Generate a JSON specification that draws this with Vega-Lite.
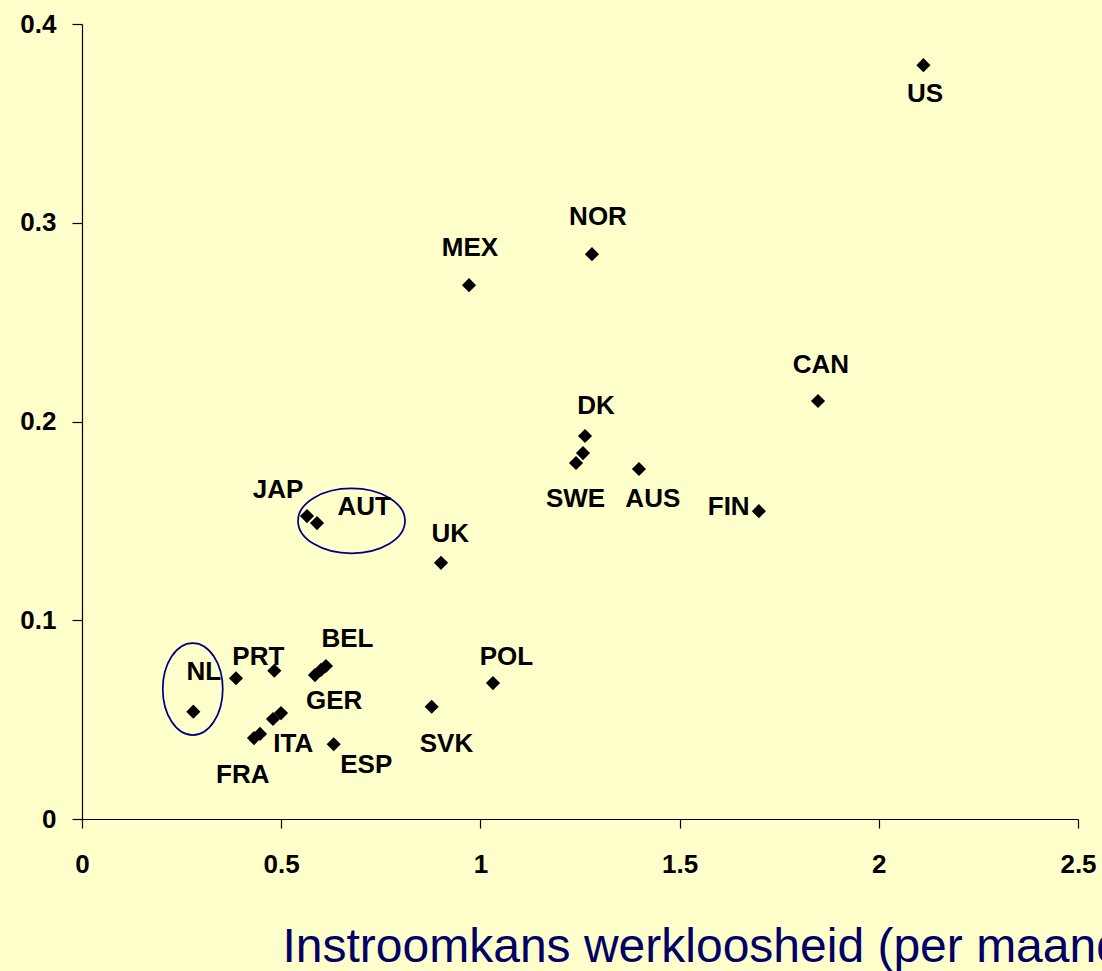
{
  "$schema": "https://vega.github.io/schema/vega-lite/v6.json",
  "width": 996,
  "height": 795,
  "autosize": {"type": "none"},
  "padding": {"left": 82, "top": 24, "right": 24, "bottom": 152},
  "background": "#FFFFCC",
  "config": {
    "view": {"stroke": null},
    "axis": {
      "grid": false,
      "domainColor": "#000000",
      "domainWidth": 1.2,
      "tickColor": "#000000",
      "tickWidth": 1.2,
      "labelFont": "Liberation Sans",
      "labelFontWeight": "bold",
      "labelFontSize": 26,
      "labelColor": "#000000",
      "labelFlush": false,
      "labelOverlap": false
    }
  },
  "datasets": {
    "points": [
      {"country": "US", "x": 2.112, "y": 0.3793},
      {"country": "NOR", "x": 1.280, "y": 0.2842},
      {"country": "MEX", "x": 0.9714, "y": 0.2686},
      {"country": "CAN", "x": 1.8474, "y": 0.2103},
      {"country": "DK", "x": 1.2626, "y": 0.1927},
      {"country": "SWE-a", "x": 1.2575, "y": 0.1841},
      {"country": "SWE-b", "x": 1.240, "y": 0.1791},
      {"country": "AUS", "x": 1.398, "y": 0.1761},
      {"country": "FIN", "x": 1.699, "y": 0.1549},
      {"country": "JAP", "x": 0.5648, "y": 0.1524},
      {"country": "AUT", "x": 0.5899, "y": 0.1489},
      {"country": "UK", "x": 0.9011, "y": 0.1289},
      {"country": "POL", "x": 1.0316, "y": 0.0684},
      {"country": "SVK", "x": 0.8777, "y": 0.0565},
      {"country": "NL", "x": 0.2794, "y": 0.0540},
      {"country": "PRT-a", "x": 0.3865, "y": 0.0708},
      {"country": "PRT-b", "x": 0.4827, "y": 0.0746},
      {"country": "BEL-a", "x": 0.5848, "y": 0.0724},
      {"country": "BEL-b", "x": 0.5999, "y": 0.0750},
      {"country": "BEL-c", "x": 0.6124, "y": 0.0770},
      {"country": "GER-a", "x": 0.4794, "y": 0.0503},
      {"country": "GER-b", "x": 0.4995, "y": 0.0533},
      {"country": "FRA", "x": 0.4317, "y": 0.0407},
      {"country": "ITA", "x": 0.4468, "y": 0.0428},
      {"country": "ESP", "x": 0.6318, "y": 0.0376}
    ],
    "labels": [
      {"label": "US", "x": 2.116, "y": 0.3653},
      {"label": "NOR", "x": 1.2952, "y": 0.3038},
      {"label": "MEX", "x": 0.9739, "y": 0.2880},
      {"label": "CAN", "x": 1.8549, "y": 0.2294},
      {"label": "DK", "x": 1.2902, "y": 0.2087},
      {"label": "SWE", "x": 1.2387, "y": 0.1616},
      {"label": "AUS", "x": 1.4328, "y": 0.1616},
      {"label": "FIN", "x": 1.6232, "y": 0.1575},
      {"label": "JAP", "x": 0.4920, "y": 0.1661},
      {"label": "AUT", "x": 0.7083, "y": 0.1577},
      {"label": "UK", "x": 0.9245, "y": 0.1444},
      {"label": "POL", "x": 1.0655, "y": 0.0822},
      {"label": "SVK", "x": 0.9149, "y": 0.0385},
      {"label": "NL", "x": 0.3058, "y": 0.0745},
      {"label": "PRT", "x": 0.4426, "y": 0.0825},
      {"label": "BEL", "x": 0.6664, "y": 0.0914},
      {"label": "GER", "x": 0.6330, "y": 0.0601},
      {"label": "ITA", "x": 0.5304, "y": 0.0387},
      {"label": "FRA", "x": 0.4037, "y": 0.0228},
      {"label": "ESP", "x": 0.7136, "y": 0.0280}
    ],
    "ellipses": [
      {"group": "NL", "x": 0.278, "y": 0.0654},
      {"group": "AUT", "x": 0.6765, "y": 0.150}
    ]
  },
  "encoding": {
    "x": {
      "field": "x",
      "type": "quantitative",
      "scale": {"domain": [0, 2.5], "nice": false, "zero": false},
      "axis": {
        "values": [0, 0.5, 1, 1.5, 2, 2.5],
        "format": "~g",
        "tickSize": 9,
        "labelPadding": 23,
        "title": "Instroomkans werkloosheid (per maand)",
        "titleX": 200,
        "titleY": 142,
        "titleAlign": "left",
        "titleBaseline": "alphabetic",
        "titleFont": "Liberation Sans",
        "titleFontSize": 48,
        "titleFontWeight": "normal",
        "titleColor": "#000066"
      }
    },
    "y": {
      "field": "y",
      "type": "quantitative",
      "scale": {"domain": [0, 0.4], "nice": false, "zero": false},
      "axis": {
        "values": [0, 0.1, 0.2, 0.3, 0.4],
        "format": "~g",
        "tickSize": 10,
        "labelPadding": 16,
        "title": null
      }
    }
  },
  "layer": [
    {
      "data": {"name": "ellipses"},
      "transform": [{"filter": "datum.group === 'NL'"}],
      "mark": {
        "type": "point",
        "shape": "M -0.652 0 A 0.652 1 0 1 0 0.652 0 A 0.652 1 0 1 0 -0.652 0 Z",
        "size": 8464,
        "filled": false,
        "stroke": "#000080",
        "strokeWidth": 1.75,
        "opacity": 1
      }
    },
    {
      "data": {"name": "ellipses"},
      "transform": [{"filter": "datum.group === 'AUT'"}],
      "mark": {
        "type": "point",
        "shape": "M -1 0 A 1 0.607 0 1 0 1 0 A 1 0.607 0 1 0 -1 0 Z",
        "size": 11449,
        "filled": false,
        "stroke": "#000080",
        "strokeWidth": 1.75,
        "opacity": 1
      }
    },
    {
      "data": {"name": "points"},
      "mark": {
        "type": "point",
        "shape": "diamond",
        "size": 200,
        "filled": true,
        "color": "#000000",
        "opacity": 1
      }
    },
    {
      "data": {"name": "labels"},
      "mark": {
        "type": "text",
        "font": "Liberation Sans",
        "fontWeight": "bold",
        "fontSize": 26,
        "align": "center",
        "baseline": "middle",
        "dy": 1.5,
        "color": "#000000"
      },
      "encoding": {"text": {"field": "label"}}
    }
  ]
}
